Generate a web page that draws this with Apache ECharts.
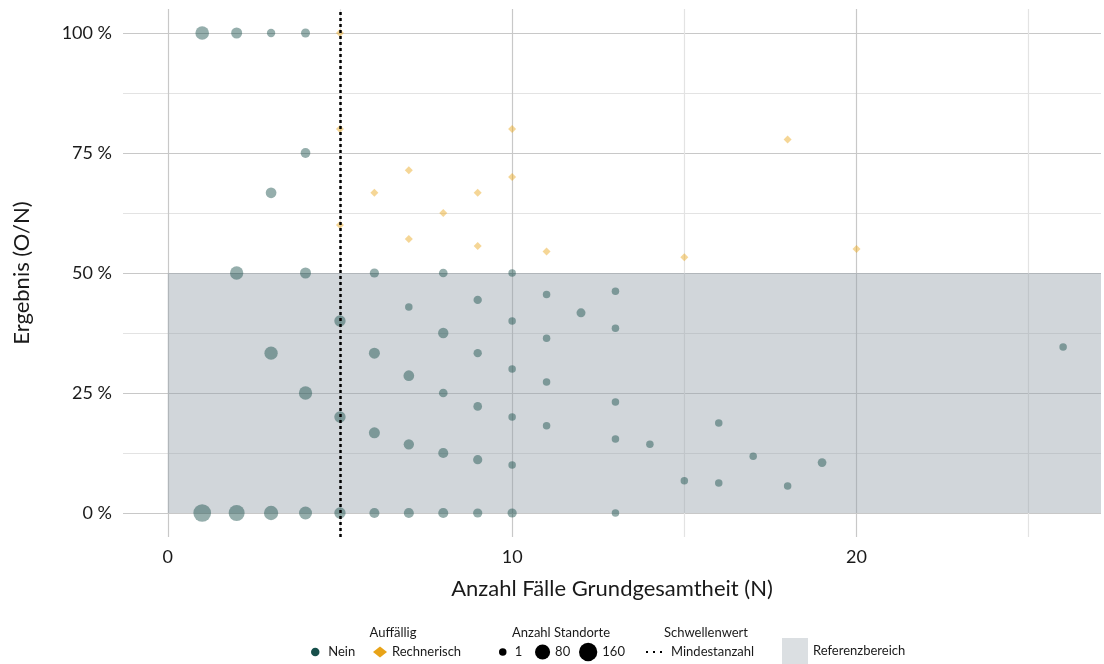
<!DOCTYPE html>
<html>
<head>
<meta charset="utf-8">
<script src="https://cdn.jsdelivr.net/npm/echarts@6/dist/echarts.min.js"></script>
<style>
html,body{margin:0;padding:0;background:#fff;}
#chart{width:1104px;height:664px;}
</style>
</head>
<body>
<div id="chart"></div>
<script>
// ---- data ----
// Auffällig = Nein : [N, Ergebnis %, Anzahl Standorte]
const neinPoints = [
  [1,100,53],[1,0,143],
  [2,100,18],[2,50,47],[2,0,99],
  [3,100,2],[3,66.7,15],[3,33.3,47],[3,0,64],
  [4,100,4],[4,75,8],[4,50,18],[4,25,47],[4,0,42],
  [5,40,21],[5,20,21],[5,0,21],
  [6,50,5],[6,33.3,18],[6,16.7,18],[6,0,10],
  [7,42.9,1],[7,28.6,15],[7,14.3,12],[7,0,10],
  [8,50,3],[8,37.5,12],[8,25,3],[8,12.5,10],[8,0,10],
  [9,44.4,2],[9,33.3,2],[9,22.2,3],[9,11.1,5],[9,0,5],
  [10,50,1],[10,40,1],[10,30,1],[10,20,1],[10,10,1],[10,0,5],
  [11,45.5,1],[11,36.4,1],[11,27.3,1],[11,18.2,1],
  [12,41.7,4],
  [13,46.2,1],[13,38.5,1],[13,23.1,1],[13,15.4,1],[13,0,1],
  [14,14.3,1],
  [15,6.7,1],
  [16,18.75,1],[16,6.25,1],
  [17,11.8,1],
  [18,5.6,1],
  [19,10.5,3],
  [26,34.6,1]
];
// Auffällig = Rechnerisch
const rechnerischPoints = [
  [5,100,1],[5,80,1],[5,60,1],
  [6,66.7,1],
  [7,71.4,1],[7,57.1,1],
  [8,62.5,1],
  [9,66.7,1],[9,55.6,1],
  [10,80,1],[10,70,1],
  [11,54.5,1],
  [15,53.3,1],
  [18,77.8,1],
  [20,55,1]
];
const sizeLegendValues = [1, 80, 160];
const threshold = 5;            // Mindestanzahl
const referenceRange = [0, 50]; // Referenzbereich (%)
const xTickLabels = [0, 10, 20];
const xGridValues = [0, 5, 10, 15, 20, 25];
const yTickLabels = [0, 25, 50, 75, 100];
const yGridValues = [0, 12.5, 25, 37.5, 50, 62.5, 75, 87.5, 100];

// ---- styling ----
const FONT = 'Lato, "Open Sans", sans-serif';
const TEXT = '#1a1a1a';
const X_MIN = -1.3, X_MAX = 27.1, Y_MIN = -5, Y_MAX = 105;
function dia(n) { return 7.5 + 10.8 * Math.sqrt(Math.max(0, n - 1) / 159); }

const chart = echarts.init(document.getElementById('chart'), null, {renderer: 'canvas'});

const legendY = 652;
function legendAt(name, left, w, h, extra) {
  const boxH = Math.max(h, 16);
  return Object.assign({
    data: [name],
    left: left,
    top: legendY - boxH / 2,
    padding: 0,
    itemWidth: w,
    itemHeight: h,
    selectedMode: false,
    textStyle: {fontFamily: FONT, fontSize: 13, color: TEXT, lineHeight: 16, padding: 0}
  }, extra || {});
}

const option = {
  backgroundColor: '#ffffff',
  animation: false,
  textStyle: {fontFamily: FONT},
  grid: {left: 123, right: 3, top: 9, bottom: 127, containLabel: false, outerBoundsMode: 'none'},
  xAxis: {
    type: 'value',
    min: X_MIN, max: X_MAX,
    name: 'Anzahl Fälle Grundgesamtheit (N)',
    nameLocation: 'middle',
    nameGap: 41,
    nameTextStyle: {fontFamily: FONT, fontSize: 22, color: TEXT},
    axisLine: {show: false},
    axisTick: {show: false, customValues: xGridValues},
    axisLabel: {customValues: xTickLabels, fontFamily: FONT, fontSize: 18, color: TEXT, margin: 11},
    splitLine: {show: true, lineStyle: {color: ['#c8c8c8', '#e3e3e3'], width: 1.2}}
  },
  yAxis: {
    type: 'value',
    min: Y_MIN, max: Y_MAX,
    name: 'Ergebnis (O/N)',
    nameLocation: 'middle',
    nameGap: 90,
    nameTextStyle: {fontFamily: FONT, fontSize: 22, color: TEXT},
    axisLine: {show: false},
    axisTick: {show: false, customValues: yGridValues},
    axisLabel: {customValues: yTickLabels, fontFamily: FONT, fontSize: 18, color: TEXT, margin: 11,
      formatter: v => v + ' %'},
    splitLine: {show: true, lineStyle: {color: ['#c8c8c8', '#e3e3e3'], width: 1.2}}
  },
  legend: [
    legendAt('Nein', 311, 16, 8.5, {icon: 'circle', itemStyle: {color: '#174f4b', opacity: 1}}),
    legendAt('Rechnerisch', 373, 14, 11, {icon: 'diamond', itemStyle: {color: '#e8a317', opacity: 1}}),
    legendAt('1', 499, 14, dia(1), {icon: 'circle', itemStyle: {color: '#000', opacity: 1}}),
    legendAt('80', 535, dia(80), dia(80), {icon: 'circle', itemStyle: {color: '#000', opacity: 1}}),
    legendAt('160', 579, dia(160), dia(160), {icon: 'circle', itemStyle: {color: '#000', opacity: 1}}),
    legendAt('Mindestanzahl', 645, 20, 10, {itemStyle: {opacity: 0}, lineStyle: {color: '#000', type: [2, 5], width: 2}}),
    legendAt('Referenzbereich', 782, 26, 26, {icon: 'rect', top: 638})
  ],
  graphic: [
    {type: 'text', x: 393, y: 633, style: {text: 'Auffällig', font: '13px ' + FONT, fill: TEXT, align: 'center', verticalAlign: 'middle'}},
    {type: 'text', x: 561, y: 633, style: {text: 'Anzahl Standorte', font: '13px ' + FONT, fill: TEXT, align: 'center', verticalAlign: 'middle'}},
    {type: 'text', x: 706, y: 633, style: {text: 'Schwellenwert', font: '13px ' + FONT, fill: TEXT, align: 'center', verticalAlign: 'middle'}}
  ],
  series: [
    {
      name: 'Referenzbereich',
      type: 'scatter',
      data: [],
      itemStyle: {color: '#d2d7db'},
      z: 1,
      markArea: {
        silent: true,
        itemStyle: {color: 'rgba(145,157,167,0.42)'},
        data: [[{xAxis: 0, yAxis: referenceRange[0]}, {xAxis: X_MAX, yAxis: referenceRange[1]}]]
      }
    },
    {
      name: 'Nein',
      type: 'scatter',
      data: neinPoints,
      symbol: 'circle',
      symbolSize: v => dia(v[2]),
      itemStyle: {color: '#174f4b', opacity: 0.46},
      z: 3
    },
    {
      name: 'Rechnerisch',
      type: 'scatter',
      data: rechnerischPoints,
      symbol: 'diamond',
      symbolSize: v => dia(v[2]) + 0.5,
      itemStyle: {color: '#e8a317', opacity: 0.45},
      z: 3
    },
    {name: '1', type: 'scatter', data: [], itemStyle: {color: '#000'}},
    {name: '80', type: 'scatter', data: [], itemStyle: {color: '#000'}},
    {name: '160', type: 'scatter', data: [], itemStyle: {color: '#000'}},
    {
      name: 'Mindestanzahl',
      type: 'line',
      data: [],
      symbol: 'none',
      showSymbol: false,
      lineStyle: {color: '#000', type: [2, 5], width: 2},
      itemStyle: {color: '#000'},
      z: 5,
      markLine: {
        silent: true,
        symbol: ['none', 'none'],
        label: {show: false},
        lineStyle: {color: '#000', type: [3, 3], width: 2.5},
        data: [{xAxis: threshold}]
      }
    }
  ]
};
chart.setOption(option);
</script>
</body>
</html>
